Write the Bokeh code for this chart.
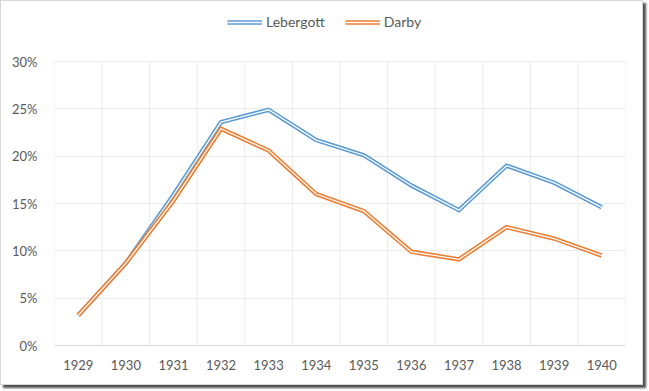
from bokeh.plotting import figure
from bokeh.models import (ColumnDataSource, FixedTicker, PrintfTickFormatter,
                          Legend, LegendItem, Range1d)
from bokeh.embed import file_html
from bokeh.resources import INLINE

years = [1929, 1930, 1931, 1932, 1933, 1934, 1935, 1936, 1937, 1938, 1939, 1940]
lebergott = [3.2, 8.7, 15.9, 23.6, 24.9, 21.7, 20.1, 16.9, 14.3, 19.0, 17.2, 14.6]
darby = [3.2, 8.7, 15.3, 22.9, 20.6, 16.0, 14.2, 9.9, 9.1, 12.5, 11.3, 9.5]
y_ticks = [0, 5, 10, 15, 20, 25, 30]

BLUE = "#5B9BD5"
ORANGE = "#ED7D31"
TEXT = "#595959"
GRID = "#EBEBEB"
FONT = "Lato"

src = ColumnDataSource(dict(year=years, leb=lebergott, dar=darby))

# category boundaries for the vertical gridlines
bounds = [y - 0.5 for y in years] + [years[-1] + 0.5]
grid_src = ColumnDataSource(dict(x=bounds, y0=[y_ticks[0]] * len(bounds),
                                 y1=[y_ticks[-1]] * len(bounds)))

p = figure(width=643, height=385, output_backend="svg", toolbar_location=None,
           x_range=Range1d(bounds[0], bounds[-1]),
           y_range=Range1d(y_ticks[0], 35.92),
           min_border_left=53, min_border_right=19, min_border_top=4,
           min_border_bottom=41)
p.outline_line_color = None
p.background_fill_color = "white"
p.border_fill_color = "white"
p.styles = {"border": "1px solid #D9D9D9",
            "box-shadow": "3px 3px 2px #505050"}

# grids
p.xgrid.visible = False
p.segment(x0="x", y0="y0", x1="x", y1="y1", source=grid_src,
          line_color=GRID, line_width=1)
p.ygrid.ticker = FixedTicker(ticks=y_ticks)
p.ygrid.grid_line_color = GRID

# axes
p.xaxis.ticker = FixedTicker(ticks=years)
p.xaxis.axis_line_color = "#D9D9D9"
p.xaxis.major_tick_line_color = None
p.xaxis.minor_tick_line_color = None
p.xaxis.major_label_text_color = TEXT
p.xaxis.major_label_text_font = FONT
p.xaxis.major_label_text_font_size = "13px"
p.xaxis.major_label_standoff = 8

p.yaxis.ticker = FixedTicker(ticks=y_ticks)
p.yaxis.formatter = PrintfTickFormatter(format="%d%%")
p.yaxis.axis_line_color = None
p.yaxis.major_tick_line_color = None
p.yaxis.minor_tick_line_color = None
p.yaxis.major_label_text_color = TEXT
p.yaxis.major_label_text_font = FONT
p.yaxis.major_label_text_font_size = "13px"
p.yaxis.major_label_standoff = 11

# double ("compound") lines
l1 = p.line("year", "leb", source=src, line_color=BLUE, line_width=4.4, line_join="miter")
l1w = p.line("year", "leb", source=src, line_color="white", line_width=1.3, line_join="miter")
d1 = p.line("year", "dar", source=src, line_color=ORANGE, line_width=4.4, line_join="miter")
d1w = p.line("year", "dar", source=src, line_color="white", line_width=1.3, line_join="miter")

legend = Legend(items=[LegendItem(label="Lebergott", renderers=[l1, l1w]),
                       LegendItem(label="Darby", renderers=[d1, d1w])],
                orientation="horizontal", location=(173, 315),
                label_text_color=TEXT, label_text_font=FONT,
                label_text_font_size="14px", glyph_width=35, glyph_height=12,
                spacing=20, label_standoff=4, border_line_color=None,
                background_fill_alpha=0, padding=4, margin=0)
p.add_layout(legend, "center")

open("out.html", "w").write(file_html(p, INLINE))
